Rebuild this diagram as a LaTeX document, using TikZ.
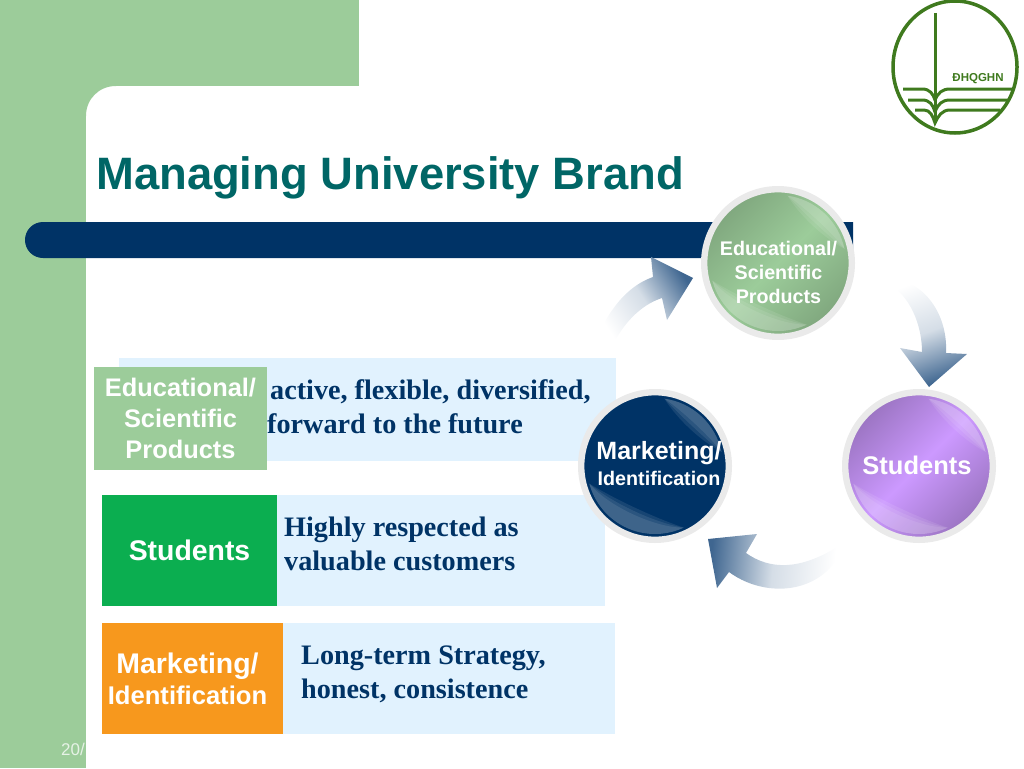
\documentclass[tikz,border=0pt]{standalone}
\usepackage{fontspec}
\setmainfont{Liberation Sans}
\newfontfamily\rowserif{Liberation Serif}
\usepackage{xcolor}
\usetikzlibrary{positioning}

\definecolor{bandgreen}{HTML}{9CCC9A}
\definecolor{barnavy}{HTML}{003366}
\definecolor{titleteal}{HTML}{006666}
\definecolor{rowblue}{HTML}{E1F2FE}
\definecolor{boxgreen}{HTML}{0BAE50}
\definecolor{boxorange}{HTML}{F7981D}
\definecolor{ringgray}{HTML}{EAEAEA}
\definecolor{arrowblue}{HTML}{3F6690}
\definecolor{logogreen}{HTML}{3F7A1E}
\definecolor{ballpurple}{HTML}{CC99FF}

\tikzset{
	rowband/.style={fill=rowblue, inner sep=0pt},
	keybox/.style={inner sep=0pt, text=white, font=\bfseries, align=center},
	rowtext/.style={anchor=west, inner sep=0pt, align=left, text=barnavy,
		font=\rowserif\bfseries\fontsize{28.2}{34}\selectfont},
	ball/.style={circle, draw=ringgray, line width=6.4pt, minimum size=147.6pt, inner sep=0pt},
	balltext/.style={inner sep=0pt, text=white, align=center},
	bendarrow/.style={top color=arrowblue, bottom color=white, middle color=arrowblue!22!white, draw=none},
	shine/.style={white, opacity=0.09},
	logoline/.style={logogreen, line width=3pt}
}

\begin{document}
\begin{tikzpicture}[x=1pt, y=-1pt]
	\useasboundingbox (0,0) rectangle (1024,768);
	% green band and its round corner
	\fill[bandgreen] (0,0) rectangle (359,86);
	\fill[bandgreen] (0,0) rectangle (86,768);
	\fill[bandgreen] (86,116) .. controls (86,99) and (99,86) .. (116,86) -- (86,86) -- cycle;
	\fill[barnavy] (853,222) -- (43,222) .. controls (33,222) and (25,230) .. (25,240)
		.. controls (25,250) and (33,258) .. (43,258) -- (853,258) -- cycle;
	\node[anchor=base west, inner sep=0pt, text=titleteal, font=\bfseries\fontsize{45.4}{50}\selectfont] (title) at (96,189) {Managing University Brand};
	\node[anchor=base west, inner sep=0pt, text=bandgreen!25!white, font=\fontsize{17}{19}\selectfont] (pagenum) at (61,755) {20/};

	% rows
	\node[rowband, minimum width=497pt, minimum height=103pt] (rowone) at (367.5,409.5) {};
	\node[rowband, minimum width=503pt, minimum height=111pt] (rowtwo) at (353.5,550.5) {};
	\node[rowband, minimum width=513pt, minimum height=111pt] (rowthree) at (358.5,678.5) {};
	\node[rowtext] (textone) at (267,407) {\hspace{3pt}active, flexible, diversified,\\forward to the future};
	\node[rowtext] (texttwo) at (284,544) {Highly respected as\\valuable customers};
	\node[rowtext] (textthree) at (301,674) {Long-term Strategy,\\honest, consistence};
	\node[keybox, fill=bandgreen, minimum width=173pt, minimum height=103pt, font=\bfseries\fontsize{25.4}{31}\selectfont] (keyone) at (180.5,418.5) {Educational/\\Scientific\\Products};
	\node[keybox, fill=boxgreen, minimum width=175pt, minimum height=111pt, font=\bfseries\fontsize{28.4}{32}\selectfont] (keytwo) at (189.5,550.5) {Students};
	\node[keybox, fill=boxorange, minimum width=181pt, minimum height=111pt] (keythree) at (192.5,678.5) {};
	\node[keybox, font=\bfseries\fontsize{28.4}{32}\selectfont] (keythreetext) at (187.5,678.5) {Marketing/\\[-1pt]{\fontsize{25.6}{32}\selectfont Identification}};

	% arrows round the balls
	\coordinate (tailA) at (598,335);
	\coordinate (tipA) at (693,278);
	\coordinate (tailB) at (887,277);
	\coordinate (tipB) at (929,387);
	\coordinate (tailC) at (837,547);
	\coordinate (tipC) at (708,539);
	\shade[bendarrow, shading angle=-57] (tailA) .. controls (612,305) and (630,285) .. (653,277)
		-- (651,257) -- (tipA) -- (667,320) -- (662,298) .. controls (640,305) and (622,325) .. (612,347) -- cycle;
	\shade[bendarrow, shading angle=200] (tailB) .. controls (925,280) and (948,315) .. (946,353)
		-- (967,354) -- (tipB) -- (900,348) -- (922,352) .. controls (922,325) and (910,295) .. (887,283) -- cycle;
	\shade[bendarrow, shading angle=85] (tailC) .. controls (800,570) and (770,570) .. (746,553)
		-- (757,534) -- (tipC) -- (717,588) -- (729,572) .. controls (760,595) and (810,597) .. (837,560) -- cycle;

	% balls
	\node[ball, top color=bandgreen!82!black, bottom color=bandgreen!82!black, middle color=bandgreen, shading angle=45] (ballproducts) at (778,263) {};
	\node[ball, top color=ballpurple!76!black, bottom color=ballpurple!76!black, middle color=ballpurple, shading angle=45] (ballstudents) at (919,466) {};
	\node[ball, fill=barnavy] (ballmarketing) at (655,466) {};
	\foreach \ball in {ballproducts,ballstudents,ballmarketing} {
		\foreach \depth in {52,57,62} {
			\fill[shine] (\ball.center) ++(12:68pt) arc[start angle=12, end angle=82, radius=68pt]
				.. controls ([shift={(65:\depth pt)}]\ball.center) and ([shift={(29:\depth pt)}]\ball.center) .. ([shift={(12:68pt)}]\ball.center);
			\fill[shine] (\ball.center) ++(195:68pt) arc[start angle=195, end angle=295, radius=68pt]
				.. controls ([shift={(270:\depth pt)}]\ball.center) and ([shift={(220:\depth pt)}]\ball.center) .. ([shift={(195:68pt)}]\ball.center);
		}
	}
	\node[balltext, font=\bfseries\fontsize{19.7}{24}\selectfont] (ballproductstext) at (778.5,272) {Educational/\\Scientific\\Products};
	\node[balltext, font=\bfseries\fontsize{25.5}{30}\selectfont] (ballstudentstext) at (917,465) {Students};
	\node[balltext, font=\bfseries\fontsize{25}{26}\selectfont] (ballmarketingtext) at (659,464) {Marketing/\\{\fontsize{19.7}{24}\selectfont Identification}};

	% logo
	\draw[logoline, line width=3.5pt] (955,67) ellipse[x radius=62pt, y radius=66pt];
	\draw[logoline] (935,13) -- (935,123);
	\draw[logoline] (903,89) -- (922,89) .. controls (930,89) and (933,94) .. (935,100) .. controls (938,93) and (942,89) .. (950,89) -- (1013,89);
	\draw[logoline] (908,100) -- (922,100) .. controls (930,100) and (933,105) .. (935,112) .. controls (938,104) and (942,100) .. (950,100) -- (1008,100);
	\draw[logoline] (915,110) -- (924,110) .. controls (930,110) and (933,116) .. (935,123) .. controls (938,116) and (942,110) .. (950,110) -- (1000,110);
	\node[inner sep=0pt, text=logogreen, font=\bfseries\fontsize{11.5}{13}\selectfont] (logotext) at (978,79) {ĐHQGHN};
\end{tikzpicture}
\end{document}
